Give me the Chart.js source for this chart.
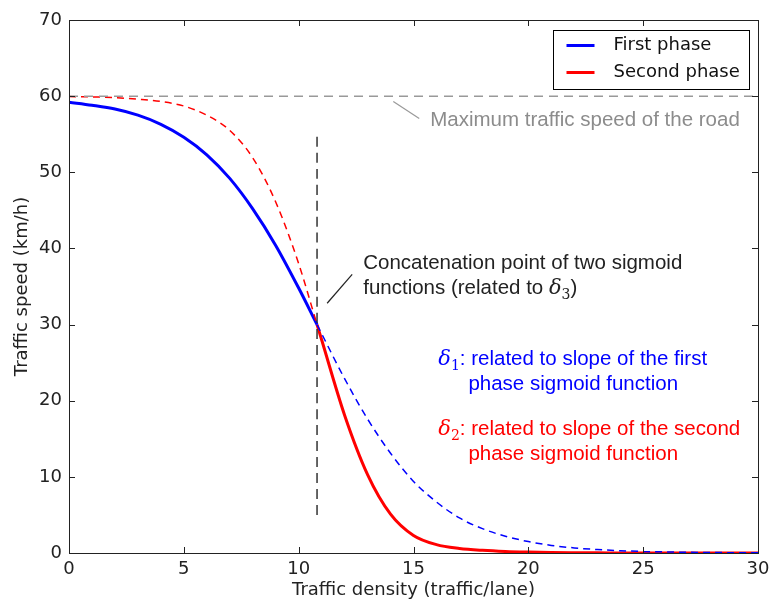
<!DOCTYPE html>
<html>
<head>
<meta charset="utf-8">
<script src="https://cdn.jsdelivr.net/npm/chart.js@4.4.0/dist/chart.umd.min.js"></script>
<style>
html, body { margin: 0; padding: 0; background: #fff; }
</style>
</head>
<body>
<canvas id="chartSpeed" width="769" height="603"></canvas>
<script>
// densidades
const densityFirst = [0, 1, 2, 3, 4, 5, 6, 7, 8, 9, 10, 10.8];
const densitySecond = [10.8, 11, 12, 13, 14, 15, 16, 17, 18, 19, 20, 21, 22, 23, 24, 25, 26, 27, 28, 29, 30];

// primera fase (azul)
const firstPhase = [59.2, 58.8, 58.3, 57.5, 56.3, 54.6, 52.3, 49.2, 45.2, 40.4, 34.8, 30];
const firstPhaseTail = [30, 28.8, 22.9, 17.6, 13.1, 9.4, 6.7, 4.6, 3.2, 2.2, 1.5, 1.0, 0.67, 0.45, 0.3, 0.2, 0.14, 0.09, 0.06, 0.04, 0.03];

// segunda fase (rojo)
const secondPhaseHead = [59.95, 59.9, 59.8, 59.6, 59.3, 58.7, 57.5, 55.5, 51.9, 46.1, 38.0, 30];
const secondPhase = [30, 28, 18.1, 10.3, 5.1, 2.3, 1.1, 0.6, 0.35, 0.2, 0.12, 0.07, 0.04, 0.02, 0.01, 0, 0, 0, 0, 0, 0];

// referencias
const maxSpeedX = [0, 30];
const maxSpeedY = [60, 60];
const joinX = [10.8, 10.8];
const joinY = [5, 55];

const xTicks = [0, 5, 10, 15, 20, 25, 30];
const yTicks = [0, 10, 20, 30, 40, 50, 60, 70];

const BLUE = "#0000ff", RED = "#ff0000", GREY = "#999999", INK = "#222222";
const SANS = "'Liberation Sans', Arial, sans-serif";
const DEJA = "'DejaVu Sans', sans-serif";

const pts = (xs, ys) => xs.map((x, i) => ({ x, y: ys[i] }));

// textos de anotación (posiciones en unidades de datos)
const notes = [
  { x: 15.73, y: 56.06, color: "#8c8c8c", parts: [["t", "Maximum traffic speed of the road"]] },
  { x: 12.81, y: 37.32, color: INK, parts: [["t", "Concatenation point of two sigmoid"]] },
  { x: 12.81, y: 34.07, color: INK, parts: [["t", "functions (related to "], ["m", "δ"], ["s", "3"], ["t", ")"]] },
  { x: 16.08, y: 24.74, color: BLUE, parts: [["m", "δ"], ["s", "1"], ["t", ": related to slope of the first"]] },
  { x: 17.39, y: 21.46, color: BLUE, parts: [["t", "phase sigmoid function"]] },
  { x: 16.08, y: 15.45, color: RED, parts: [["m", "δ"], ["s", "2"], ["t", ": related to slope of the second"]] },
  { x: 17.39, y: 12.26, color: RED, parts: [["t", "phase sigmoid function"]] },
];
const pointers = [
  { x1: 14.12, y1: 59.3, x2: 15.25, y2: 57.07, color: GREY },
  { x1: 11.24, y1: 32.8, x2: 12.33, y2: 36.6, color: INK },
];

const extras = {
  id: "extras",
  afterDraw(chart) {
    const { ctx, chartArea: a, scales } = chart;
    const sx = scales.x, sy = scales.y;
    ctx.save();
    // marco
    ctx.strokeStyle = INK;
    ctx.lineWidth = 1;
    ctx.strokeRect(Math.round(a.left) + 0.5, Math.round(a.top) + 0.5, Math.round(a.right - a.left), Math.round(a.bottom - a.top));
    // ticks hacia adentro
    ctx.beginPath();
    xTicks.forEach((v) => {
      const p = Math.round(sx.getPixelForValue(v)) + 0.5;
      ctx.moveTo(p, a.bottom); ctx.lineTo(p, a.bottom - 6);
      ctx.moveTo(p, a.top); ctx.lineTo(p, a.top + 6);
    });
    yTicks.forEach((v) => {
      const p = Math.round(sy.getPixelForValue(v)) + 0.5;
      ctx.moveTo(a.left, p); ctx.lineTo(a.left + 6, p);
      ctx.moveTo(a.right, p); ctx.lineTo(a.right - 6, p);
    });
    ctx.stroke();
    // líneas indicadoras
    pointers.forEach((l) => {
      ctx.strokeStyle = l.color;
      ctx.lineWidth = 1.2;
      ctx.beginPath();
      ctx.moveTo(sx.getPixelForValue(l.x1), sy.getPixelForValue(l.y1));
      ctx.lineTo(sx.getPixelForValue(l.x2), sy.getPixelForValue(l.y2));
      ctx.stroke();
    });
    // textos
    ctx.textBaseline = "alphabetic";
    ctx.textAlign = "left";
    notes.forEach((n) => {
      let px = sx.getPixelForValue(n.x);
      const py = sy.getPixelForValue(n.y);
      ctx.fillStyle = n.color;
      n.parts.forEach(([k, t]) => {
        let dy = 0;
        if (k === "m") ctx.font = "italic 21px 'DejaVu Serif', serif";
        else if (k === "s") { ctx.font = "14px 'DejaVu Serif', serif"; dy = 5; }
        else ctx.font = "20.5px " + SANS;
        ctx.fillText(t, px, py + dy);
        px += ctx.measureText(t).width;
      });
    });
    // leyenda
    const items = chart.data.datasets.filter((d) => d.inLegend);
    const bx = Math.round(a.right - 205.5) + 0.5, by = Math.round(a.top + 10) + 0.5;
    ctx.fillStyle = "#fff";
    ctx.fillRect(bx, by, 196, 59);
    ctx.strokeStyle = "#000";
    ctx.lineWidth = 1;
    ctx.strokeRect(bx, by, 196, 59);
    ctx.font = "18px " + DEJA;
    ctx.textBaseline = "middle";
    items.forEach((d, i) => {
      const ry = by + 15 + i * 27;
      ctx.strokeStyle = d.borderColor;
      ctx.lineWidth = 3;
      ctx.beginPath();
      ctx.moveTo(bx + 13, ry); ctx.lineTo(bx + 41, ry);
      ctx.stroke();
      ctx.fillStyle = "#111";
      ctx.fillText(d.label, bx + 60, ry);
    });
    ctx.restore();
  },
};

const line = (label, xs, ys, color, width, dash, inLegend) => ({
  label,
  data: pts(xs, ys),
  borderColor: color,
  borderWidth: width,
  borderDash: dash,
  pointRadius: 0,
  cubicInterpolationMode: "monotone",
  fill: false,
  inLegend,
});

new Chart(document.getElementById("chartSpeed").getContext("2d"), {
  type: "line",
  data: {
    datasets: [
      line("Maximum speed", maxSpeedX, maxSpeedY, GREY, 1.5, [9, 6], false),
      line("Split", joinX, joinY, "#333333", 1.5, [10, 6], false),
      line("First phase (cont.)", densitySecond, firstPhaseTail, BLUE, 1.5, [7, 5], false),
      line("Second phase (cont.)", densityFirst, secondPhaseHead, RED, 1.5, [7, 5], false),
      line("First phase", densityFirst, firstPhase, BLUE, 3, [], true),
      line("Second phase", densitySecond, secondPhase, RED, 3, [], true),
    ],
  },
  options: {
    responsive: false,
    animation: false,
    devicePixelRatio: 1,
    layout: { padding: { top: 20, right: 11, left: 0, bottom: 0 } },
    plugins: { legend: { display: false }, tooltip: { enabled: false } },
    scales: {
      x: {
        type: "linear",
        min: 0,
        max: 30,
        afterBuildTicks: (s) => { s.ticks = xTicks.map((v) => ({ value: v })); },
        afterFit: (s) => { s.height = 50; s.paddingLeft = 0; s.paddingRight = 0; },
        grid: { display: false, drawTicks: false },
        border: { display: false },
        ticks: { color: INK, padding: 6, font: { family: DEJA, size: 18 } },
        title: { display: true, text: "Traffic density (traffic/lane)", color: INK, padding: { bottom: 2 }, font: { family: DEJA, size: 18 } },
      },
      y: {
        min: 0,
        max: 70,
        afterBuildTicks: (s) => { s.ticks = yTicks.map((v) => ({ value: v })); },
        afterFit: (s) => { s.width = 69; s.paddingTop = 0; s.paddingBottom = 0; },
        grid: { display: false, drawTicks: false },
        border: { display: false },
        ticks: { color: INK, padding: 7, font: { family: DEJA, size: 18 } },
        title: { display: true, text: "Traffic speed (km/h)", color: INK, padding: { top: 12 }, font: { family: DEJA, size: 18 } },
      },
    },
  },
  plugins: [extras],
});
</script>
</body>
</html>
